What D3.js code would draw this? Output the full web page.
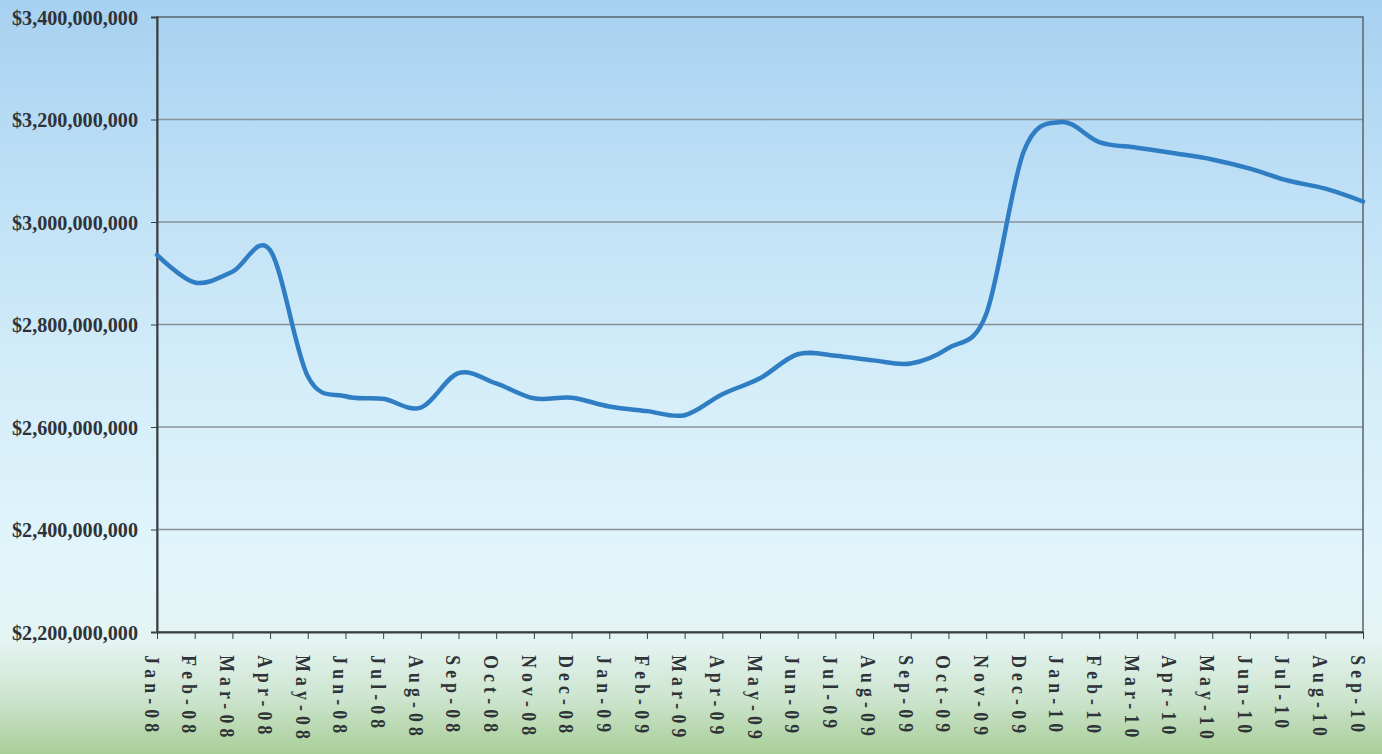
<!DOCTYPE html>
<html><head><meta charset="utf-8">
<script src="https://cdn.jsdelivr.net/npm/d3@7"></script>
<style>html,body{margin:0;padding:0;overflow:hidden;}svg{display:block;}</style>
</head><body>
<svg id="c" width="1382" height="754"></svg>
<script>
const months = ["Jan-08","Feb-08","Mar-08","Apr-08","May-08","Jun-08","Jul-08","Aug-08","Sep-08","Oct-08","Nov-08","Dec-08",
"Jan-09","Feb-09","Mar-09","Apr-09","May-09","Jun-09","Jul-09","Aug-09","Sep-09","Oct-09","Nov-09","Dec-09",
"Jan-10","Feb-10","Mar-10","Apr-10","May-10","Jun-10","Jul-10","Aug-10","Sep-10"];
const values = [2936,2882,2903,2945,2699,2660,2655,2638,2705,2685,2656,2657,
2640,2631,2623,2664,2695,2742,2739,2730,2724,2754,2820,3138,
3195,3156,3145,3134,3122,3104,3081,3065,3040].map(v=>v*1e6);
const yTicks = [2.2e9,2.4e9,2.6e9,2.8e9,3.0e9,3.2e9,3.4e9];

const W=1382,H=754;
const m={l:157,r:1363,t:17,b:632};
const svg=d3.select("#c");
const defs=svg.append("defs");
const g=defs.append("linearGradient").attr("id","bg").attr("x1",0).attr("y1",0).attr("x2",0).attr("y2",1);
[[0,"#a6d1f0"],[0.25,"#bfe0f6"],[0.5,"#d3edf9"],[0.75,"#e2f5fb"],[0.85,"#e4f4f2"],[0.92,"#cfe6d2"],[1,"#a9cf98"]]
 .forEach(([o,c])=>g.append("stop").attr("offset",o).attr("stop-color",c));
svg.append("rect").attr("width",W).attr("height",H).attr("fill","url(#bg)");

const x=d3.scalePoint().domain(months).range([m.l,m.r]);
const y=d3.scaleLinear().domain([2.2e9,3.4e9]).range([m.b,m.t]);

// gridlines
svg.append("g").selectAll("line").data(yTicks.slice(1,-1)).join("line")
 .attr("x1",m.l).attr("x2",m.r).attr("y1",d=>y(d)).attr("y2",d=>y(d))
 .attr("stroke","#8a9196").attr("stroke-width",1.5);

// frame
svg.append("rect").attr("x",m.l).attr("y",m.t).attr("width",m.r-m.l).attr("height",m.b-m.t)
 .attr("fill","none").attr("stroke","#58636b").attr("stroke-width",1.5);

// y axis
const fmt=d=>"$"+d3.format(",")(d);
const ya=svg.append("g").attr("transform",`translate(${m.l},0)`)
 .call(d3.axisLeft(y).tickValues(yTicks).tickSize(6).tickPadding(13).tickFormat(fmt));
ya.select(".domain").attr("stroke","#3a3f44").attr("stroke-width",2);
ya.selectAll(".tick line").attr("stroke","#3a3f44");
ya.selectAll("text").attr("font-family","Liberation Serif").attr("font-weight","bold")
 .attr("font-size",22).attr("fill","#2f3338")
 .attr("textLength",126).attr("lengthAdjust","spacingAndGlyphs");

// x axis
const xa=svg.append("g").attr("transform",`translate(0,${m.b})`)
 .call(d3.axisBottom(x).tickSize(7).tickSizeOuter(0).tickFormat(d=>d));
xa.select(".domain").attr("stroke","#3a3f44").attr("stroke-width",2);
xa.selectAll(".tick line").attr("stroke","#3a3f44");
xa.selectAll("text").attr("font-family","Liberation Serif").attr("font-weight","bold")
 .attr("font-size",22).attr("fill","#2f3338").attr("letter-spacing","6.5px")
 .attr("transform","rotate(90) scale(0.8,1)").attr("text-anchor","start").attr("dy","0.35em")
 .attr("x",29).attr("y",5);

// line
const line=d3.line().x((d,i)=>x(months[i])).y(d=>y(d)).curve(d3.curveCatmullRom.alpha(0));
svg.append("path").datum(values).attr("d",line).attr("fill","none")
 .attr("stroke","#2f7dc3").attr("stroke-width",4.5).attr("stroke-linejoin","round").attr("stroke-linecap","round");
</script>
</body></html>
